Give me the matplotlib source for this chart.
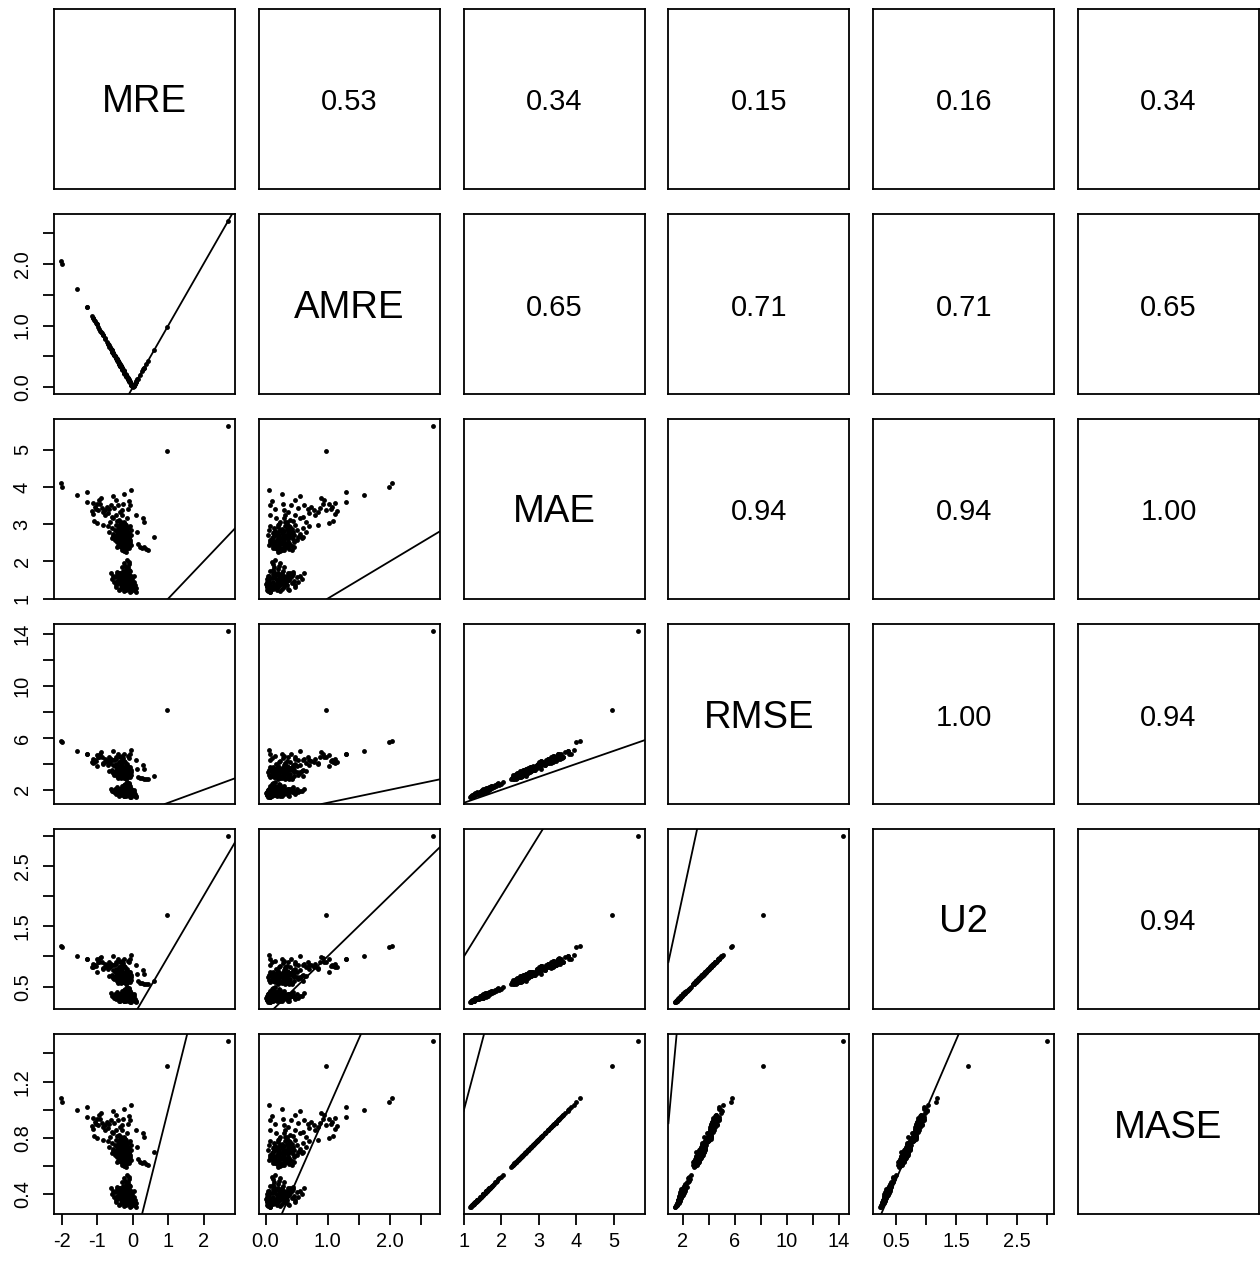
import numpy as np
import matplotlib
matplotlib.use("Agg")
import matplotlib.pyplot as plt

plt.rcParams["font.family"] = ["Liberation Sans", "DejaVu Sans"]
plt.rcParams["axes.unicode_minus"] = False

# ---------------------------------------------------------------------------
# Forecast accuracy measures, one value per forecast series
# ---------------------------------------------------------------------------
mre = [
    # low-error group
    -0.30, -0.22, -0.15, -0.40, -0.10, -0.25, -0.05, -0.35, -0.18, -0.28,
    -0.12, -0.20, 0.02, -0.08, -0.45, -0.32, -0.16, -0.24, -0.38, -0.06,
    -0.14, -0.20, -0.12, -0.16, -0.10, -0.22, -0.28, -0.50, -0.55, -0.42,
    -0.30, -0.04, 0.05, 0.08, -0.02, -0.26, -0.18, -0.12, -0.34, -0.08,
    -0.22, -0.36, -0.26, -0.14, -0.04, -0.20, -0.30, -0.10, -0.46, -0.62,
    -0.18, -0.28, -0.12, -0.24, 0.00, -0.06, -0.40, -0.16, -0.32, -0.20,
    -0.14, -0.24, -0.08, 0.03, -0.36, -0.10, -0.26, -0.44, -0.04, -0.18,
    -0.48, -0.52, 0.06, 0.10, -0.38, -0.42, -0.58, 0.04, -0.30, -0.20,
    -0.34, -0.08, -0.02, -0.48, -0.14, -0.26, -0.12, -0.36, 0.02, -0.24,
    # mid-error group
    -0.30, -0.25, -0.35, -0.20, -0.40, -0.15, -0.28, -0.45, -0.10, -0.22,
    -0.33, -0.38, -0.18, -0.26, -0.50, -0.12, -0.42, -0.30, -0.24, -0.16,
    -0.36, -0.28, -0.20, -0.46, -0.55, -0.08, -0.14, -0.32, -0.22, -0.40,
    -0.48, -0.60, -0.18, -0.34, -0.26, -0.38, -0.12, -0.06, -0.30, -0.44,
    -0.24, -0.16, -0.52, -0.36, -0.20, -0.28, -0.10, -0.42, -0.32, -0.22,
    -0.14, -0.58, -0.66, -0.70, -0.04, -0.26, -0.36, -0.18, -0.30, -0.46,
    -0.12, -0.24, -0.40, -0.08, -0.34, 0.14, 0.20, 0.26, 0.32, 0.38,
    0.42, 0.13, 0.60, -0.20, -0.05,
    -0.32, -0.22, -0.44, -0.16, -0.28, -0.38, -0.12, -0.50, -0.26, -0.18,
    -0.40, -0.30, -0.34, -0.20, -0.08, -0.56, -0.24, -0.36, -0.14, -0.46,
    # high-error group
    -1.30, -1.30, -1.59, -1.12, -1.02, -0.95, -0.90, -1.07, -0.98, -1.12,
    -1.09, -1.02, -0.84, -0.80, -0.85, -0.74, -0.68, -0.70, -0.62, -0.55,
    -0.48, -0.41, -0.37, -0.32, -0.30, -0.26, -0.47, -0.55, -0.65, -0.45,
    -0.24, -0.17, -0.10, -0.08, -0.06, 0.08, 0.29, 0.31, -0.20, -1.05,
    -0.92, -0.78, -0.60, -0.40, -0.35, -0.88, -1.15, -0.52, -0.15, -0.28,
    # extreme series
    -2.04, -1.99, 0.97, 2.70,
]

mae = [
    1.62, 1.48, 1.55, 1.70, 1.35, 1.40, 1.28, 1.58, 1.66, 1.52,
    1.44, 1.30, 1.22, 1.18, 1.65, 1.45, 1.38, 1.60, 1.50, 1.50,
    1.72, 1.80, 1.92, 2.05, 1.98, 1.88, 1.75, 1.58, 1.62, 1.42,
    1.32, 1.20, 1.25, 1.17, 1.34, 1.25, 1.22, 1.26, 1.36, 1.42,
    1.56, 1.64, 1.68, 1.60, 1.56, 1.46, 1.40, 1.32, 1.48, 1.70,
    1.50, 1.58, 1.66, 1.36, 1.40, 1.62, 1.55, 1.28, 1.52, 1.64,
    1.84, 1.95, 1.74, 1.46, 1.26, 1.56, 1.46, 1.72, 1.38, 1.42,
    1.30, 1.45, 1.36, 1.28, 1.22, 1.60, 1.52, 1.62, 1.86, 1.70,
    1.48, 1.24, 1.52, 1.38, 1.34, 1.54, 1.78, 1.68, 1.30, 1.20,
    2.60, 2.50, 2.70, 2.55, 2.65, 2.45, 2.75, 2.80, 2.62, 2.40,
    2.48, 2.85, 2.72, 2.88, 2.58, 2.35, 2.42, 2.32, 2.28, 2.52,
    2.56, 2.66, 2.78, 2.70, 2.75, 2.58, 2.68, 2.95, 3.00, 2.92,
    2.98, 2.90, 2.44, 2.38, 2.62, 2.50, 2.76, 2.84, 2.82, 2.60,
    2.46, 2.36, 2.66, 2.74, 2.64, 2.54, 2.50, 2.86, 2.40, 2.70,
    2.90, 2.62, 2.80, 2.95, 2.70, 2.30, 2.62, 2.58, 2.72, 2.52,
    2.42, 2.84, 2.76, 2.96, 3.05, 2.48, 2.40, 2.36, 2.38, 2.34,
    2.32, 2.79, 2.65, 2.26, 2.44,
    2.64, 2.56, 2.72, 2.82, 2.46, 2.94, 2.66, 2.84, 2.76, 2.34,
    2.44, 2.52, 2.86, 2.92, 2.52, 2.68, 2.62, 2.78, 2.56, 2.38,
    3.59, 3.87, 3.79, 3.58, 3.54, 3.65, 3.70, 3.47, 3.38, 3.27,
    3.09, 3.03, 3.34, 3.25, 2.99, 3.47, 3.42, 3.29, 3.52, 3.77,
    3.66, 3.52, 3.34, 3.25, 3.38, 3.81, 3.25, 3.16, 3.07, 3.09,
    3.07, 3.16, 3.63, 3.52, 3.93, 3.25, 3.18, 3.07, 2.99, 3.42,
    3.55, 3.38, 3.20, 3.12, 3.00, 3.45, 3.35, 3.45, 3.40, 3.55,
    4.10, 3.99, 4.97, 5.65,
]

rmse = [
    2.15, 1.75, 2.10, 2.05, 1.80, 1.70, 1.70, 1.82, 2.20, 1.76,
    1.73, 1.72, 1.58, 1.45, 1.90, 1.90, 1.64, 2.12, 1.80, 2.05,
    2.32, 2.20, 2.55, 2.62, 2.45, 2.45, 2.13, 2.05, 1.90, 1.86,
    1.66, 1.48, 1.55, 1.42, 1.70, 1.56, 1.52, 1.58, 1.72, 1.80,
    1.95, 2.08, 2.12, 2.04, 2.00, 1.82, 1.75, 1.65, 1.88, 2.10,
    1.86, 2.02, 2.15, 1.68, 1.78, 2.08, 1.90, 1.62, 1.94, 2.05,
    2.38, 2.40, 2.28, 1.86, 1.58, 1.92, 1.84, 2.18, 1.72, 1.82,
    1.68, 1.80, 1.66, 1.55, 1.54, 2.05, 1.88, 2.00, 2.30, 2.18,
    1.95, 1.60, 1.82, 1.78, 1.74, 2.00, 2.20, 2.05, 1.62, 1.50,
    3.50, 3.00, 3.55, 3.05, 3.60, 3.00, 3.55, 3.75, 3.20, 3.12,
    3.27, 3.50, 3.70, 3.68, 3.37, 3.05, 2.90, 3.12, 2.93, 3.05,
    3.13, 3.62, 3.42, 3.55, 3.35, 3.55, 3.28, 3.95, 4.15, 3.65,
    4.00, 3.50, 3.28, 2.88, 3.52, 3.03, 3.75, 3.52, 3.75, 3.50,
    2.97, 3.15, 3.18, 3.72, 3.48, 3.07, 3.42, 3.53, 3.25, 3.26,
    3.62, 3.48, 3.45, 3.95, 3.37, 3.00, 3.56, 3.15, 3.58, 3.35,
    3.28, 3.51, 3.70, 3.77, 4.20, 3.02, 2.90, 2.91, 2.83, 2.84,
    2.82, 3.60, 3.05, 2.85, 3.15,
    3.45, 3.10, 3.60, 3.50, 3.30, 3.70, 3.25, 3.80, 3.40, 3.10,
    3.20, 3.40, 3.55, 3.85, 3.00, 3.30, 3.55, 3.75, 3.45, 3.05,
    4.77, 4.75, 4.98, 4.35, 4.70, 4.55, 4.92, 4.27, 4.50, 4.10,
    4.18, 3.80, 4.08, 4.38, 4.00, 4.25, 4.53, 4.32, 4.35, 5.00,
    4.52, 4.75, 4.50, 4.10, 4.62, 4.75, 4.35, 3.90, 4.10, 3.92,
    4.20, 4.00, 4.48, 4.73, 5.10, 4.30, 3.92, 3.62, 3.78, 4.20,
    4.80, 4.17, 4.30, 4.15, 3.82, 4.55, 4.15, 4.28, 4.60, 4.45,
    5.78, 5.70, 8.15, 14.28,
]

u2 = [
    0.40, 0.31, 0.39, 0.38, 0.32, 0.30, 0.30, 0.33, 0.41, 0.31,
    0.31, 0.31, 0.28, 0.25, 0.34, 0.34, 0.29, 0.39, 0.32, 0.38,
    0.43, 0.41, 0.48, 0.50, 0.46, 0.46, 0.39, 0.38, 0.34, 0.34,
    0.29, 0.25, 0.27, 0.24, 0.30, 0.27, 0.26, 0.27, 0.30, 0.32,
    0.36, 0.38, 0.39, 0.38, 0.37, 0.33, 0.31, 0.29, 0.34, 0.39,
    0.34, 0.37, 0.40, 0.30, 0.32, 0.39, 0.35, 0.28, 0.35, 0.38,
    0.45, 0.45, 0.43, 0.34, 0.27, 0.35, 0.33, 0.41, 0.31, 0.33,
    0.30, 0.32, 0.29, 0.27, 0.27, 0.38, 0.34, 0.37, 0.43, 0.41,
    0.36, 0.28, 0.33, 0.32, 0.31, 0.37, 0.41, 0.38, 0.28, 0.26,
    0.69, 0.58, 0.70, 0.59, 0.71, 0.58, 0.70, 0.74, 0.62, 0.61,
    0.64, 0.69, 0.73, 0.73, 0.66, 0.59, 0.56, 0.61, 0.57, 0.59,
    0.61, 0.71, 0.67, 0.70, 0.66, 0.70, 0.64, 0.79, 0.83, 0.72,
    0.80, 0.69, 0.64, 0.56, 0.69, 0.59, 0.74, 0.69, 0.74, 0.69,
    0.57, 0.61, 0.62, 0.74, 0.68, 0.60, 0.67, 0.70, 0.63, 0.64,
    0.71, 0.68, 0.68, 0.79, 0.66, 0.58, 0.70, 0.61, 0.71, 0.66,
    0.64, 0.69, 0.73, 0.75, 0.84, 0.59, 0.56, 0.56, 0.54, 0.55,
    0.54, 0.71, 0.59, 0.55, 0.61,
    0.68, 0.60, 0.71, 0.69, 0.65, 0.73, 0.63, 0.75, 0.67, 0.60,
    0.62, 0.67, 0.70, 0.76, 0.58, 0.65, 0.70, 0.74, 0.68, 0.59,
    0.96, 0.96, 1.01, 0.87, 0.95, 0.91, 0.99, 0.85, 0.90, 0.82,
    0.84, 0.75, 0.81, 0.88, 0.80, 0.85, 0.91, 0.86, 0.87, 1.01,
    0.91, 0.96, 0.90, 0.82, 0.93, 0.96, 0.87, 0.77, 0.82, 0.78,
    0.84, 0.80, 0.90, 0.95, 1.03, 0.86, 0.78, 0.71, 0.75, 0.84,
    0.97, 0.83, 0.86, 0.83, 0.76, 0.91, 0.83, 0.86, 0.93, 0.89,
    1.18, 1.16, 1.69, 3.00,
]

# AMRE is the absolute MRE; MASE scales MAE by the in-sample naive MAE
naive_mae = 3.79
amre = np.abs(np.array(mre))
mase = np.array(mae) / naive_mae

names = ["MRE", "AMRE", "MAE", "RMSE", "U2", "MASE"]
series = [np.array(mre), amre, np.array(mae), np.array(rmse), np.array(u2), mase]

# correlation labels shown above the diagonal, row by row
cor_labels = [
    ["0.53", "0.34", "0.15", "0.16", "0.34"],
    ["0.65", "0.71", "0.71", "0.65"],
    ["0.94", "0.94", "1.00"],
    ["1.00", "0.94"],
    ["0.94"],
]

axis_ticks = {
    "MRE": ([-2, -1, 0, 1, 2], ["-2", "-1", "0", "1", "2"]),
    "AMRE": ([0, 0.5, 1, 1.5, 2, 2.5], ["0.0", "", "1.0", "", "2.0", ""]),
    "MAE": ([1, 2, 3, 4, 5], ["1", "2", "3", "4", "5"]),
    "RMSE": ([2, 4, 6, 8, 10, 12, 14], ["2", "", "6", "", "10", "", "14"]),
    "U2": ([0.5, 1, 1.5, 2, 2.5, 3], ["0.5", "", "1.5", "", "2.5", ""]),
    "MASE": ([0.4, 0.6, 0.8, 1.0, 1.2, 1.4], ["0.4", "", "0.8", "", "1.2", ""]),
}

# ---------------------------------------------------------------------------
W, H = 1260, 1264
fig = plt.figure(figsize=(W / 100, H / 100), dpi=100)

n = len(names)
col_left0, col_pitch, panel_w = 54, 204.8, 181
row_top0, row_pitch, panel_h = 9, 205, 180
LW = 1.3
TEXT_Y = 0.5 - 3.5 / panel_h


def limits(v):
    lo, hi = float(np.min(v)), float(np.max(v))
    pad = 0.04 * (hi - lo)
    return lo - pad, hi + pad


lims = [limits(v) for v in series]

for i in range(n):
    for j in range(n):
        left = (col_left0 + col_pitch * j) / W
        bottom = 1 - (row_top0 + row_pitch * i + panel_h) / H
        ax = fig.add_axes([left, bottom, panel_w / W, panel_h / H])
        for sp in ax.spines.values():
            sp.set_linewidth(LW)
            sp.set_color("black")
        ax.set_xticks([])
        ax.set_yticks([])

        if i == j:
            ax.text(0.5, TEXT_Y, names[i], transform=ax.transAxes,
                    ha="center", va="center", fontsize=27.5)
        elif i < j:
            ax.text(0.5, TEXT_Y, cor_labels[i][j - i - 1],
                    transform=ax.transAxes,
                    ha="center", va="center", fontsize=21)
        else:
            ax.plot(series[j], series[i], "o", ms=3.5, color="black",
                    mec="none")
            ax.set_xlim(*lims[j])
            ax.set_ylim(*lims[i])
            ax.axline((0, 0), (1, 1), color="black", lw=LW)

        if j == 0 and i > 0:
            t, lab = axis_ticks[names[i]]
            ax.set_ylim(*lims[i])
            ax.set_yticks(t)
            ax.set_yticklabels(lab, rotation=90, va="center")
            ax.tick_params(axis="y", direction="out", length=7.7, width=LW,
                           pad=8.3, labelsize=14.4)
        if i == n - 1 and j < n - 1:
            t, lab = axis_ticks[names[j]]
            ax.set_xlim(*lims[j])
            ax.set_xticks(t)
            ax.set_xticklabels(lab)
            ax.tick_params(axis="x", direction="out", length=7.7, width=LW,
                           pad=5.0, labelsize=14.4)

fig.savefig("out.png", dpi=100, facecolor="white")
